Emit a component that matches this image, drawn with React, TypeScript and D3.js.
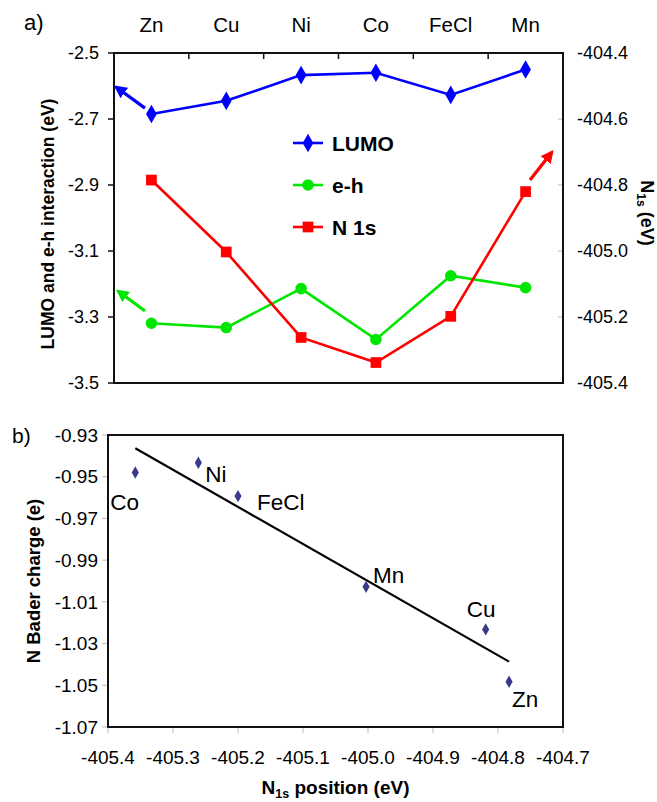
import React, { useRef, useEffect } from "react";
import * as d3 from "d3";

// panel a) – metals along the top axis
const categories = ["Zn", "Cu", "Ni", "Co", "FeCl", "Mn"];
const lumo = [-2.685, -2.645, -2.567, -2.56, -2.627, -2.55];
const eh = [-3.319, -3.332, -3.214, -3.368, -3.175, -3.211];
const n1s = [-404.785, -405.003, -405.262, -405.338, -405.198, -404.82];
const leftTicks = [-2.5, -2.7, -2.9, -3.1, -3.3, -3.5];
const rightTicks = [-404.4, -404.6, -404.8, -405.0, -405.2, -405.4];

// arrows: [xStart, yStart, xEnd, yEnd] (x in category units, y in axis units)
const arrowLumo = [0.414, -2.667, 0.027, -2.603];
const arrowEh = [0.414, -3.282, 0.053, -3.221];
const arrowN1s = [5.559, -404.785, 5.853, -404.7];

// panel b) – Bader charge vs N1s
const baderLabels = ["Co", "Ni", "FeCl", "Mn", "Cu", "Zn"];
const baderN1s = [-405.358, -405.261, -405.2, -405.003, -404.819, -404.783];
const baderCharge = [-0.948, -0.9433, -0.9593, -1.0028, -1.0232, -1.0483];
const bxTicks = [-405.4, -405.3, -405.2, -405.1, -405.0, -404.9, -404.8, -404.7];
const byTicks = [-0.93, -0.95, -0.97, -0.99, -1.01, -1.03, -1.05, -1.07];

const FONT = "'Liberation Sans', Arial, sans-serif";

export default function App() {
  const ref = useRef<SVGSVGElement>(null);

  useEffect(() => {
    const svg = d3.select(ref.current);
    svg.selectAll("*").remove();
    svg.attr("font-family", FONT);

    const defs = svg.append("defs");
    [["blue", "#0000ff"], ["green", "#00e600"], ["red", "#ff0000"]].forEach(([id, c]) => {
      defs.append("marker")
        .attr("id", "arr-" + id)
        .attr("viewBox", "0 0 10 10")
        .attr("refX", 8).attr("refY", 5)
        .attr("markerWidth", 4).attr("markerHeight", 4)
        .attr("markerUnits", "strokeWidth")
        .attr("orient", "auto")
        .append("path").attr("d", "M0,0 L10,5 L0,10 Z").attr("fill", c);
    });

    // ---------- panel a ----------
    const a = { left: 114, right: 563, top: 53, bottom: 383 };
    const x = d3.scaleBand().domain(categories).range([a.left, a.right]).padding(0);
    const xu = d3.scaleLinear().domain([0, 6]).range([a.left, a.right]);
    const yL = d3.scaleLinear().domain([-3.5, -2.5]).range([a.bottom, a.top]);
    const yR = d3.scaleLinear().domain([-405.4, -404.4]).range([a.bottom, a.top]);
    const cx = (c: string) => (x(c) as number) + x.bandwidth() / 2;

    const ga = svg.append("g");

    // top category ticks (inward) + labels
    categories.slice(1).forEach(c => {
      ga.append("line").attr("x1", x(c)!).attr("x2", x(c)!)
        .attr("y1", a.top).attr("y2", a.top + 6).attr("stroke", "#111").attr("stroke-width", 1.5);
    });
    ga.selectAll("text.cat").data(categories).join("text")
      .attr("x", d => cx(d)).attr("y", 32)
      .attr("text-anchor", "middle").attr("font-size", 20.5)
      .text(d => d);

    // left axis
    leftTicks.forEach(t => {
      ga.append("line").attr("x1", a.left - 6).attr("x2", a.left)
        .attr("y1", yL(t)).attr("y2", yL(t)).attr("stroke", "#111").attr("stroke-width", 1.5);
      ga.append("text").attr("x", a.left - 15).attr("y", yL(t))
        .attr("dy", "0.35em").attr("text-anchor", "end").attr("font-size", 18)
        .text(d3.format(".1f")(t).replace("−", "-"));
    });
    // right axis
    rightTicks.forEach(t => {
      ga.append("line").attr("x1", a.right - 5).attr("x2", a.right)
        .attr("y1", yR(t)).attr("y2", yR(t)).attr("stroke", "#bbb").attr("stroke-width", 1);
      ga.append("text").attr("x", a.right + 14).attr("y", yR(t))
        .attr("dy", "0.35em").attr("text-anchor", "start").attr("font-size", 18)
        .text(d3.format(".1f")(t).replace("−", "-"));
    });

    // frame
    ga.append("rect").attr("x", a.left).attr("y", a.top)
      .attr("width", a.right - a.left).attr("height", a.bottom - a.top)
      .attr("fill", "none").attr("stroke", "#111").attr("stroke-width", 2);

    // axis titles
    ga.append("text")
      .attr("transform", `translate(54,${(a.top + a.bottom) / 2 + 6}) rotate(-90)`)
      .attr("text-anchor", "middle").attr("font-weight", "bold").attr("font-size", 17.5)
      .text("LUMO and e-h interaction (eV)");
    const rt = ga.append("text")
      .attr("transform", `translate(641,213) rotate(90)`)
      .attr("text-anchor", "middle").attr("font-weight", "bold").attr("font-size", 18);
    rt.append("tspan").text("N");
    rt.append("tspan").attr("font-size", 12).attr("dy", 4).text("1s");
    rt.append("tspan").attr("dy", -4).text(" (eV)");

    ga.append("text").attr("x", 24).attr("y", 30).attr("font-size", 22).text("a)");

    // series
    const series = [
      { vals: lumo, y: yL, color: "#0000ff", shape: d3.symbolDiamond, size: 100 },
      { vals: eh, y: yL, color: "#00e600", shape: d3.symbolCircle, size: 105 },
      { vals: n1s, y: yR, color: "#ff0000", shape: d3.symbolSquare, size: 115 },
    ];
    series.forEach(s => {
      const line = d3.line<number>().x((_, i) => cx(categories[i])).y(v => s.y(v));
      ga.append("path").attr("d", line(s.vals)!).attr("fill", "none")
        .attr("stroke", s.color).attr("stroke-width", 2.6);
      ga.selectAll(null).data(s.vals).join("path")
        .attr("transform", (v, i) => `translate(${cx(categories[i])},${s.y(v)})`)
        .attr("d", d3.symbol().type(s.shape).size(s.size)()!)
        .attr("fill", s.color);
    });

    // arrows
    const arrows: [number[], any, string, string][] = [
      [arrowLumo, yL, "#0000ff", "blue"],
      [arrowEh, yL, "#00e600", "green"],
      [arrowN1s, yR, "#ff0000", "red"],
    ];
    arrows.forEach(([p, ys, c, id]) => {
      ga.append("line")
        .attr("x1", xu(p[0])).attr("y1", ys(p[1]))
        .attr("x2", xu(p[2])).attr("y2", ys(p[3]))
        .attr("stroke", c).attr("stroke-width", 3.2)
        .attr("marker-end", `url(#arr-${id})`);
    });

    // legend
    const legend = [
      { name: "LUMO", color: "#0000ff", shape: d3.symbolDiamond, size: 100, y: 143 },
      { name: "e-h", color: "#00e600", shape: d3.symbolCircle, size: 105, y: 185 },
      { name: "N 1s", color: "#ff0000", shape: d3.symbolSquare, size: 115, y: 227 },
    ];
    legend.forEach(l => {
      ga.append("line").attr("x1", 293).attr("x2", 323).attr("y1", l.y).attr("y2", l.y)
        .attr("stroke", l.color).attr("stroke-width", 2.6);
      ga.append("path").attr("transform", `translate(308,${l.y})`)
        .attr("d", d3.symbol().type(l.shape).size(l.size)()!).attr("fill", l.color);
      ga.append("text").attr("x", 332).attr("y", l.y).attr("dy", "0.36em")
        .attr("font-weight", "bold").attr("font-size", 21).text(l.name);
    });

    // ---------- panel b ----------
    const b = { left: 108, right: 563, top: 435, bottom: 727 };
    const bx = d3.scaleLinear().domain([-405.4, -404.7]).range([b.left, b.right]);
    const by = d3.scaleLinear().domain([-1.07, -0.93]).range([b.bottom, b.top]);
    const gb = svg.append("g");

    byTicks.forEach(t => {
      gb.append("line").attr("x1", b.left - 6).attr("x2", b.left)
        .attr("y1", by(t)).attr("y2", by(t)).attr("stroke", "#bbb").attr("stroke-width", 1);
      gb.append("text").attr("x", b.left - 10).attr("y", by(t)).attr("dy", "0.35em")
        .attr("text-anchor", "end").attr("font-size", 19)
        .text(d3.format(".2f")(t).replace("−", "-"));
    });
    bxTicks.forEach(t => {
      gb.append("line").attr("x1", bx(t)).attr("x2", bx(t))
        .attr("y1", b.bottom).attr("y2", b.bottom + 6).attr("stroke", "#bbb").attr("stroke-width", 1);
      gb.append("text").attr("x", bx(t)).attr("y", 764)
        .attr("text-anchor", "middle").attr("font-size", 19)
        .text(d3.format(".1f")(t).replace("−", "-"));
    });

    gb.append("rect").attr("x", b.left).attr("y", b.top)
      .attr("width", b.right - b.left).attr("height", b.bottom - b.top)
      .attr("fill", "none").attr("stroke", "#111").attr("stroke-width", 2);

    // least-squares trend line
    const mx = d3.mean(baderN1s)!;
    const my = d3.mean(baderCharge)!;
    const sxy = d3.sum(baderN1s, (v, i) => (v - mx) * (baderCharge[i] - my));
    const sxx = d3.sum(baderN1s, v => (v - mx) ** 2);
    const slope = sxy / sxx;
    const [x0, x1] = d3.extent(baderN1s) as [number, number];
    gb.append("line")
      .attr("x1", bx(x0)).attr("y1", by(my + slope * (x0 - mx)))
      .attr("x2", bx(x1)).attr("y2", by(my + slope * (x1 - mx)))
      .attr("stroke", "#000").attr("stroke-width", 2.2);

    gb.selectAll(null).data(baderN1s).join("path")
      .attr("transform", (v, i) => `translate(${bx(v)},${by(baderCharge[i])})`)
      .attr("d", d3.symbol().type(d3.symbolDiamond).size(44)()!)
      .attr("fill", "#3a3a8c");

    const offs: Record<string, [number, number]> = {
      Co: [-25, 37], Ni: [7, 19], FeCl: [19, 14], Mn: [7, -4], Cu: [-19, -12], Zn: [3, 25],
    };
    gb.selectAll(null).data(baderLabels).join("text")
      .attr("x", (d, i) => bx(baderN1s[i]) + offs[d][0])
      .attr("y", (d, i) => by(baderCharge[i]) + offs[d][1])
      .attr("font-size", 22.5).text(d => d);

    gb.append("text")
      .attr("transform", `translate(40,${(b.top + b.bottom) / 2}) rotate(-90)`)
      .attr("text-anchor", "middle").attr("font-weight", "bold").attr("font-size", 18.5)
      .text("N Bader charge (e)");
    const xt = gb.append("text").attr("x", (b.left + b.right) / 2).attr("y", 794)
      .attr("text-anchor", "middle").attr("font-weight", "bold").attr("font-size", 19);
    xt.append("tspan").text("N");
    xt.append("tspan").attr("font-size", 12.5).attr("dy", 4).text("1s");
    xt.append("tspan").attr("dy", -4).text(" position (eV)");

    gb.append("text").attr("x", 12).attr("y", 443).attr("font-size", 21).text("b)");
  }, []);

  return (
    <svg ref={ref} width={657} height={802}
      style={{ position: "absolute", left: 0, top: 0, background: "#fff" }} />
  );
}
